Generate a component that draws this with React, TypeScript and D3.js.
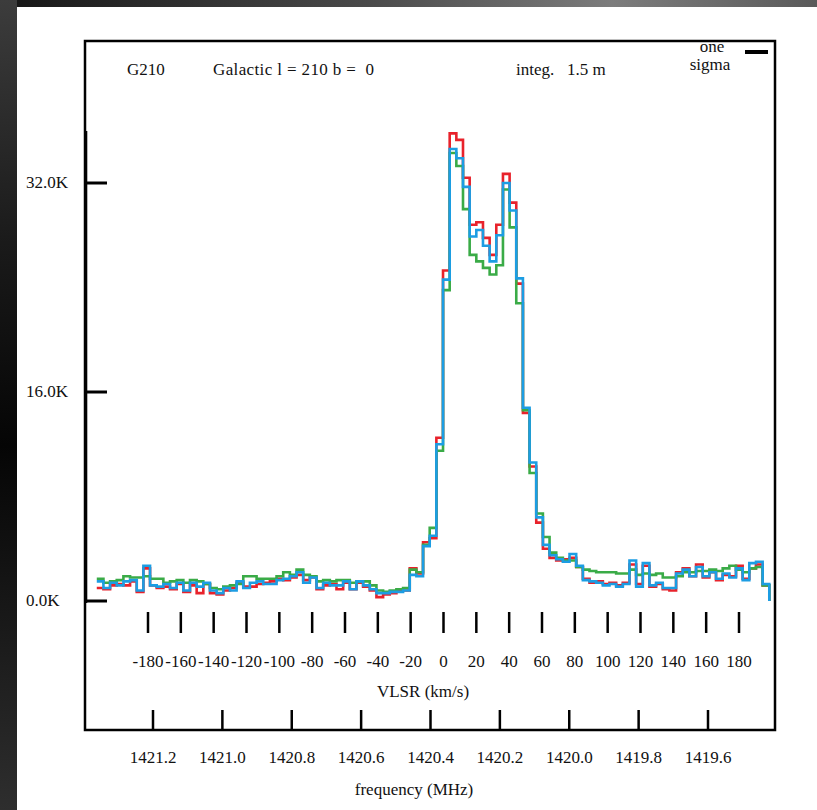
import React from "react";
import * as d3 from "d3";

const W = 817;
const H = 810;

// Velocity axis (VLSR, km/s) tick values and labels
const VEL_TICKS = [-180, -160, -140, -120, -100, -80, -60, -40, -20, 0, 20, 40, 60, 80, 100, 120, 140, 160, 180];
const VEL_LABELS = ["-180", "-160", "-140", "-120", "-100", "-80", "-60", "-40", "-20", "0", "20", "40", "60", "80", "100", "120", "140", "160", "180"];

// Frequency axis (MHz)
const FREQ_TICKS = [1421.2, 1421.0, 1420.8, 1420.6, 1420.4, 1420.2, 1420.0, 1419.8, 1419.6];
const FREQ_LABELS = ["1421.2", "1421.0", "1420.8", "1420.6", "1420.4", "1420.2", "1420.0", "1419.8", "1419.6"];

// Antenna temperature axis (K)
const TEMP_TICKS = [0, 16, 32];
const TEMP_LABELS = ["0.0K", "16.0K", "32.0K"];

// Spectrometer channel grid
const VLSR_START = -211.2; // km/s, left edge of the first channel
const CHANNEL_WIDTH = 4.056; // km/s per channel

// Three integrations of the HI profile toward G210 (K per channel)
const SPEC_RED = [
  1.0, 0.9, 1.2, 1.3, 1.2, 1.5, 0.7, 2.5, 1.2, 1.0,
  1.1, 0.9, 1.3, 0.7, 1.2, 0.6, 1.3, 0.6, 0.5, 0.8,
  1.0, 1.4, 1.1, 1.1, 1.3, 1.4, 1.5, 1.7, 1.6, 1.8,
  2.0, 1.6, 1.8, 0.9, 1.2, 1.3, 0.9, 1.4, 0.9, 1.4,
  1.1, 0.8, 0.3, 0.5, 0.6, 0.8, 0.8, 2.5, 2.1, 4.5,
  4.8, 12.5, 25.3, 35.8, 35.3, 32.4, 28.8, 29.0, 27.8, 26.5,
  28.8, 32.7, 30.5, 24.3, 14.4, 10.3, 6.0, 4.0, 3.3, 3.1,
  3.2, 3.3, 2.6, 1.7, 1.4, 1.5, 1.3, 1.4, 1.2, 1.4,
  2.8, 1.3, 2.7, 1.1, 1.3, 0.9, 0.8, 2.2, 2.5, 1.9,
  2.8, 1.8, 2.2, 1.6, 2.0, 1.9, 2.7, 1.7, 2.5, 2.8,
  1.2,
];

const SPEC_GREEN = [
  1.7, 1.4, 1.5, 1.6, 1.9, 1.8, 1.8, 1.9, 1.7, 1.7,
  1.4, 1.5, 1.6, 1.4, 1.6, 1.5, 1.3, 1.0, 0.9, 1.1,
  1.2, 1.3, 1.9, 1.9, 1.7, 1.7, 1.7, 1.9, 2.2, 2.0,
  2.4, 2.0, 1.9, 1.5, 1.6, 1.5, 1.6, 1.6, 1.4, 1.5,
  1.5, 1.2, 0.8, 0.7, 0.8, 0.9, 1.0, 2.4, 2.2, 4.3,
  5.6, 11.5, 23.8, 34.3, 33.3, 30.0, 26.5, 26.0, 25.5, 25.0,
  25.7, 31.5, 28.6, 22.8, 14.6, 9.8, 6.7, 4.9, 3.7, 3.3,
  3.1, 3.1, 2.6, 2.4, 2.3, 2.2, 2.2, 2.2, 2.1, 2.1,
  2.4, 2.0, 2.1, 2.0, 2.1, 1.8, 1.8, 1.9, 2.2, 2.2,
  2.3, 2.3, 2.4, 2.3, 2.5, 2.7, 2.4, 2.2, 2.5, 2.6,
  1.2,
];

const SPEC_BLUE = [
  1.5, 1.0, 1.4, 1.2, 1.5, 1.6, 0.8, 2.7, 1.2, 1.1,
  1.3, 1.0, 1.4, 0.8, 1.4, 1.1, 1.4, 0.8, 0.6, 1.0,
  0.8, 1.5, 1.0, 1.4, 1.5, 1.3, 1.3, 1.6, 1.7, 1.9,
  2.2, 1.4, 1.8, 1.0, 1.4, 1.2, 1.2, 1.5, 0.9, 1.5,
  1.2, 0.9, 0.6, 0.6, 0.7, 0.7, 0.8, 2.0, 1.9, 4.2,
  5.0, 12.0, 24.6, 34.6, 33.9, 31.7, 27.9, 28.4, 27.2, 26.0,
  28.0, 32.0, 29.9, 24.7, 14.8, 10.6, 6.4, 4.3, 3.5, 3.2,
  3.0, 3.6, 2.7, 1.6, 1.5, 1.4, 1.2, 1.3, 1.1, 1.3,
  3.1, 1.1, 2.9, 1.2, 1.4, 1.0, 1.0, 2.1, 2.4, 1.9,
  2.6, 1.9, 2.2, 1.7, 2.1, 1.8, 2.5, 1.6, 2.9, 3.0,
  1.3,
];

const SERIES = [
  { key: "red", values: SPEC_RED, color: "#e8222b" },
  { key: "green", values: SPEC_GREEN, color: "#3aab47" },
  { key: "blue", values: SPEC_BLUE, color: "#1c9de3" },
];

const FONT = "'Liberation Serif', 'DejaVu Serif', serif";

// Plot frame
const FRAME = { left: 85, right: 775, top: 41, bottom: 730 };

const xVel = d3.scaleLinear().domain([-180, 180]).range([148, 739]);
const xFreq = d3.scaleLinear().domain([1421.2, 1419.6]).range([153, 708]);
const yTemp = d3.scaleLinear().domain([0, 32]).range([601, 183]);

type Pt = [number, number];

function stepPath(values: number[]): string {
  const pts: Pt[] = values.map((v, i) => [VLSR_START + i * CHANNEL_WIDTH, v]);
  const vEnd = VLSR_START + values.length * CHANNEL_WIDTH;
  pts.push([vEnd, values[values.length - 1]]);
  pts.push([vEnd, 0]);
  const line = d3
    .line<Pt>()
    .x((d) => xVel(d[0]))
    .y((d) => yTemp(d[1]))
    .curve(d3.curveStepAfter);
  return line(pts) || "";
}

export default function App() {
  return (
    <svg
      width={W}
      height={H}
      viewBox={`0 0 ${W} ${H}`}
      style={{ position: "absolute", left: 0, top: 0, display: "block" }}
      fontFamily={FONT}
    >
      <defs>
        <linearGradient id="leftEdge" x1="0" y1="0" x2="0" y2="1">
          <stop offset="0" stopColor="#3c3c3c" />
          <stop offset="0.3" stopColor="#1a1a1a" />
          <stop offset="0.55" stopColor="#050505" />
          <stop offset="1" stopColor="#2e2e2e" />
        </linearGradient>
        <linearGradient id="topEdge" x1="0" y1="0" x2="1" y2="0">
          <stop offset="0" stopColor="#151515" />
          <stop offset="0.45" stopColor="#4a4a4a" />
          <stop offset="0.75" stopColor="#7c7c7c" />
          <stop offset="1" stopColor="#5a5a5a" />
        </linearGradient>
      </defs>

      {/* page surround */}
      <rect x={0} y={0} width={W} height={H} fill="#ffffff" />
      <rect x={0} y={0} width={W} height={7} fill="url(#topEdge)" />
      <rect x={0} y={0} width={17} height={H} fill="url(#leftEdge)" />

      {/* frame */}
      <rect
        x={FRAME.left}
        y={FRAME.top}
        width={FRAME.right - FRAME.left}
        height={FRAME.bottom - FRAME.top}
        fill="none"
        stroke="#000"
        strokeWidth={2.5}
      />
      {/* temperature axis line */}
      <line x1={86} x2={86} y1={131} y2={yTemp(0) + 2} stroke="#000" strokeWidth={2.6} />

      {/* header */}
      <g fontSize={17} fill="#111">
        <text x={127} y={75}>G210</text>
        <text x={213} y={75} textLength={161} lengthAdjust="spacing" style={{ whiteSpace: "pre" }}>
          {"Galactic l = 210 b =  0"}
        </text>
        <text x={516} y={75} style={{ whiteSpace: "pre" }}>{"integ.   1.5 m"}</text>
        <text x={712} y={52} textAnchor="middle">one</text>
        <text x={710} y={70} textAnchor="middle">sigma</text>
      </g>
      <line x1={745} x2={768} y1={52} y2={52} stroke="#000" strokeWidth={4} />

      {/* temperature ticks and labels */}
      {TEMP_TICKS.map((t, i) => (
        <g key={t}>
          <line x1={FRAME.left} x2={107} y1={yTemp(t)} y2={yTemp(t)} stroke="#000" strokeWidth={3} />
          <text x={26} y={yTemp(t) + 5} fontSize={17} fill="#111">
            {TEMP_LABELS[i]}
          </text>
        </g>
      ))}

      {/* spectra */}
      {SERIES.map((s) => (
        <path
          key={s.key}
          d={stepPath(s.values)}
          fill="none"
          stroke={s.color}
          strokeWidth={2.6}
          strokeLinejoin="miter"
        />
      ))}

      {/* velocity ticks and labels */}
      {VEL_TICKS.map((v, i) => (
        <g key={v}>
          <line x1={xVel(v)} x2={xVel(v)} y1={612} y2={633} stroke="#000" strokeWidth={2.5} />
          <text x={xVel(v)} y={667} textAnchor="middle" fontSize={17} fill="#111">
            {VEL_LABELS[i]}
          </text>
        </g>
      ))}
      <text x={423} y={697} textAnchor="middle" fontSize={17} fill="#111">
        VLSR (km/s)
      </text>

      {/* frequency ticks and labels */}
      {FREQ_TICKS.map((f, i) => (
        <g key={f}>
          <line x1={xFreq(f)} x2={xFreq(f)} y1={710} y2={FRAME.bottom} stroke="#000" strokeWidth={2.5} />
          <text x={xFreq(f)} y={763} textAnchor="middle" fontSize={17} fill="#111">
            {FREQ_LABELS[i]}
          </text>
        </g>
      ))}
      <text x={414} y={795} textAnchor="middle" fontSize={17} fill="#111">
        frequency (MHz)
      </text>
    </svg>
  );
}
